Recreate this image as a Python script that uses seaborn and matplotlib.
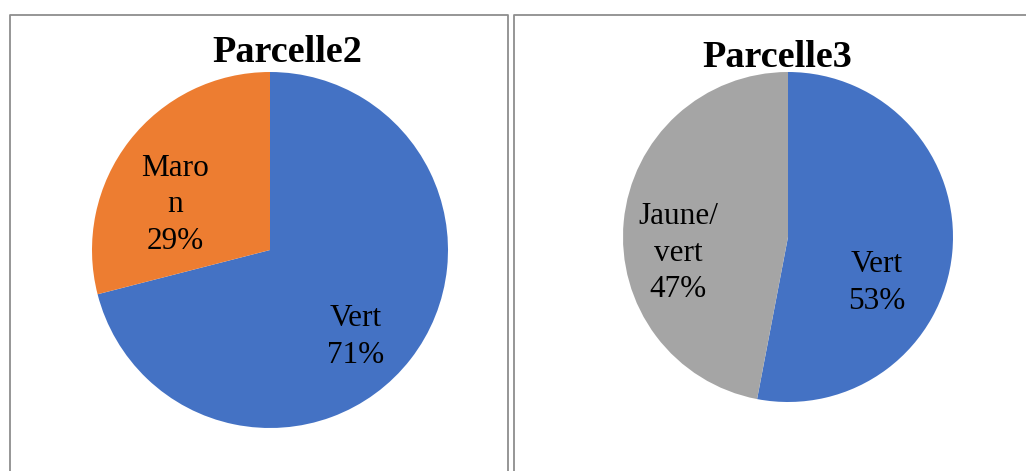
import matplotlib
matplotlib.use('Agg')
import matplotlib.pyplot as plt
import seaborn as sns
from matplotlib.lines import Line2D

# data
titres = ['Parcelle2', 'Parcelle3']
p2_labels = ['Vert', 'Maro\nn']
p2_values = [71, 29]
p3_labels = ['Vert', 'Jaune/\nvert']
p3_values = [53, 47]

bleu = '#4472C4'
orange = '#ED7D31'
gris = '#A5A5A5'

sns.set_theme(style='white')
plt.rcParams['font.family'] = ['Liberation Serif', 'DejaVu Serif']

W, H = 1026, 471
fig = plt.figure(figsize=(W / 100, H / 100), dpi=100)

def px_axes(x0, y0, x1, y1):
    return fig.add_axes([x0 / W, 1 - y1 / H, (x1 - x0) / W, (y1 - y0) / H])

# panel borders
for xs, ys in [([10, 10, 508, 508], [H + 5, 15, 15, H + 5]),
               ([514, 514, W + 5], [H + 5, 15, 15])]:
    fig.add_artist(Line2D([x / W for x in xs], [1 - y / H for y in ys],
                          color='#8e8e8e', lw=1.3, transform=fig.transFigure))

ax1 = px_axes(92, 72, 448, 428)
ax2 = px_axes(623, 72, 953, 402)

ax1.pie(p2_values, colors=[bleu, orange], startangle=90, counterclock=False,
        wedgeprops=dict(linewidth=0))
ax2.pie(p3_values, colors=[bleu, gris], startangle=90, counterclock=False,
        wedgeprops=dict(linewidth=0))

# label positions (in pie radius units)
pos2 = [(0.483, -0.489), (-0.534, 0.253)]
pos3 = [(0.539, -0.279), (-0.667, -0.097)]
for ax, labs, vals, pos in [(ax1, p2_labels, p2_values, pos2),
                            (ax2, p3_labels, p3_values, pos3)]:
    for lab, v, (x, y) in zip(labs, vals, pos):
        ax.text(x, y, f'{lab}\n{v}%', ha='center', va='center',
                fontsize=22.5, color='black', linespacing=1.33)
    ax.set_xlim(-1, 1)
    ax.set_ylim(-1, 1)
    ax.set_axis_off()

fig.text(287.5 / W, 1 - 62 / H, titres[0], ha='center', va='baseline',
         fontsize=27.5, fontweight='bold', color='black')
fig.text(777 / W, 1 - 67 / H, titres[1], ha='center', va='baseline',
         fontsize=27.5, fontweight='bold', color='black')

fig.savefig('out.png', dpi=100, facecolor='white')
